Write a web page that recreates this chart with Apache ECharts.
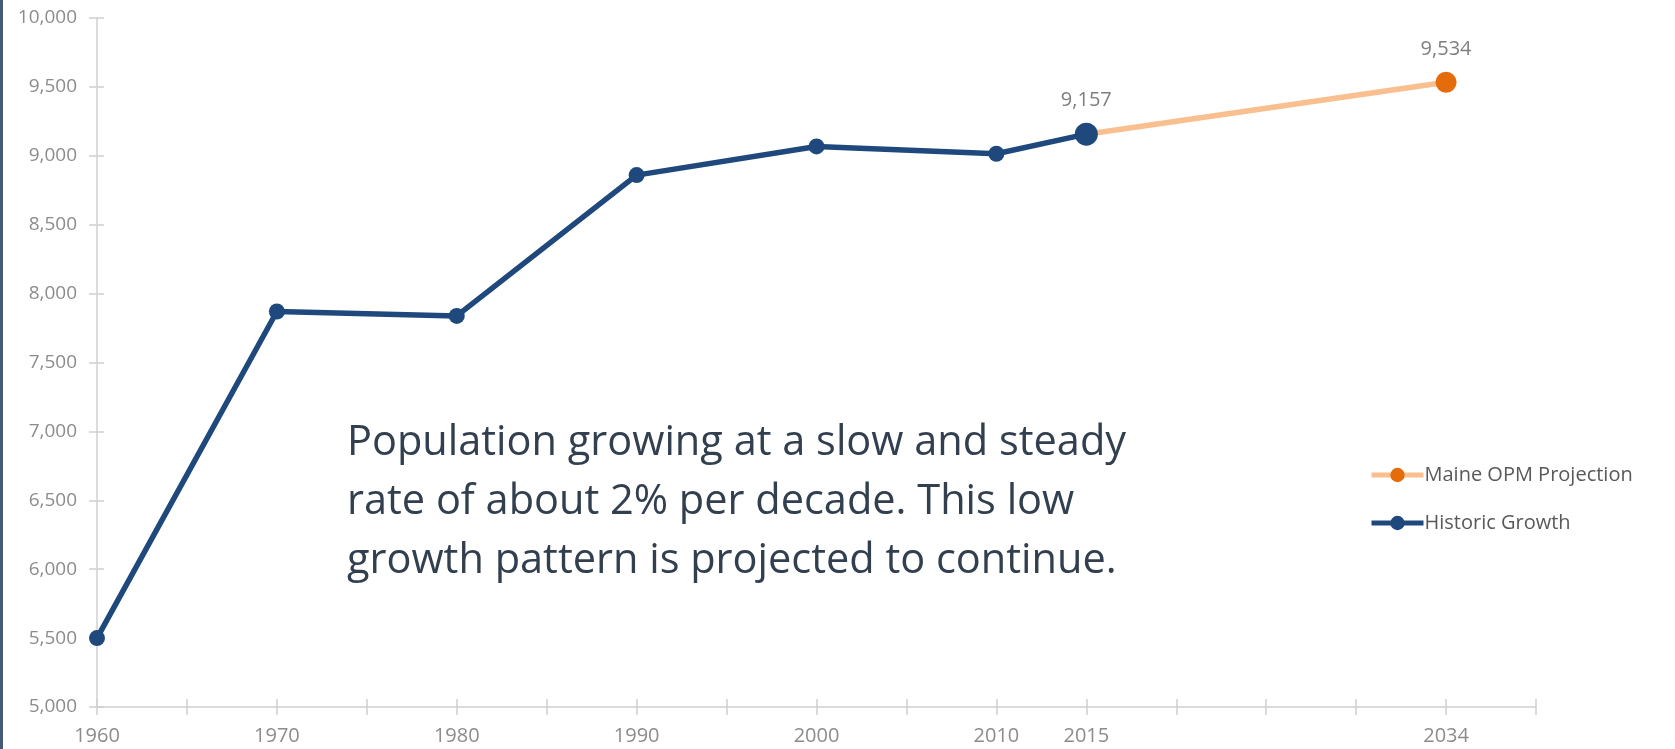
<!DOCTYPE html>
<html><head><meta charset="utf-8">
<script src="https://cdn.jsdelivr.net/npm/echarts@6/dist/echarts.min.js"></script>
<style>html,body{margin:0;padding:0;background:#fff}#c{width:1675px;height:749px}</style>
</head><body><div id="c"></div>
<script>
const categories = ["1960","","1970","","1980","","1990","","2000","","2010","2015","","","","2034",""];
const historic = [5500,null,7870,null,7838,null,8860,null,9068,null,9015,9157,null,null,null,null,null];
const projection = [null,null,null,null,null,null,null,null,null,null,null,9157,null,null,null,9534,null];
const yTicks = {min:5000,max:10000,interval:500};
const noteLines = ["Population growing at a slow and steady","rate of about 2% per decade. This low","growth pattern is projected to continue."];

const fmt = v => v.toLocaleString('en-US');
const chart = echarts.init(document.getElementById('c'), null, {renderer:'canvas'});
const histData = historic.map((v,i)=> v==null?null:(i===11?{value:v,symbolSize:23,label:{show:true}}:v));
const projData = projection.map((v,i)=> v==null?null:(i===11?{value:v,symbolSize:0}:{value:v,symbolSize:21,label:{show:true}}));
const axisCol = '#d0d0d0';
const gray = '#8c8c8c';
chart.setOption({
  animation:false,
  grid:{left:97,right:139,top:18,bottom:42},
  legend:{orient:'vertical',left:1364,top:460,itemWidth:52,itemHeight:18,itemGap:28,
    lineStyle:{width:5},
    textStyle:{fontFamily:'Open Sans',fontSize:20,color:'#595959',padding:[0,0,0,-4]},
    data:['Maine OPM Projection','Historic Growth']},
  xAxis:[{type:'category',data:categories,boundaryGap:false,
    axisLine:{lineStyle:{color:axisCol,width:1.5}},
    axisTick:{show:true,length:8,interval:0,lineStyle:{color:axisCol,width:1.5}},
    axisLabel:{interval:0,margin:19,fontFamily:'Open Sans',fontSize:20,color:gray},
    splitLine:{show:false}},
   {type:'category',data:categories,boundaryGap:false,position:'bottom',
    axisLine:{show:false},axisTick:{show:true,inside:true,length:8,interval:0,lineStyle:{color:axisCol,width:1.5}},
    axisLabel:{show:false},splitLine:{show:false}}],
  yAxis:[{type:'value',min:yTicks.min,max:yTicks.max,interval:yTicks.interval,
    axisLine:{show:true,lineStyle:{color:axisCol,width:1.5}},
    axisTick:{show:true,length:8,lineStyle:{color:axisCol,width:1.5}},
    axisLabel:{margin:20,fontFamily:'Open Sans',fontSize:19,color:gray,formatter:fmt},
    splitLine:{show:false}},
   {type:'value',min:yTicks.min,max:yTicks.max,interval:yTicks.interval,position:'left',
    axisLine:{show:false},axisTick:{show:true,inside:true,length:7,lineStyle:{color:axisCol,width:1.5}},
    axisLabel:{show:false},splitLine:{show:false}}],
  series:[
   {name:'Maine OPM Projection',type:'line',data:projData,connectNulls:true,symbol:'circle',
    lineStyle:{color:'#f9bf8f',width:5.5},itemStyle:{color:'#e46c0a'},
    label:{show:false,position:'top',distance:12,fontFamily:'Open Sans',fontSize:20,color:'#7f7f7f',formatter:p=>fmt(p.value)},
    z:2},
   {name:'Historic Growth',type:'line',data:histData,connectNulls:true,symbol:'circle',symbolSize:16,
    lineStyle:{color:'#1f497d',width:5.5},itemStyle:{color:'#1f497d'},
    label:{show:false,position:'top',distance:12,fontFamily:'Open Sans',fontSize:20,color:'#7f7f7f',formatter:p=>fmt(p.value)},
    z:3}
  ],
  graphic:[
   {type:'rect',left:0,top:0,shape:{width:3,height:749},style:{fill:'#44587a'}},
   {type:'text',left:347,top:414,style:{text:noteLines.join('\n'),fontFamily:'Open Sans',fontSize:41.5,lineHeight:59,fill:'#323f4f'}}
  ]
});
</script></body></html>
